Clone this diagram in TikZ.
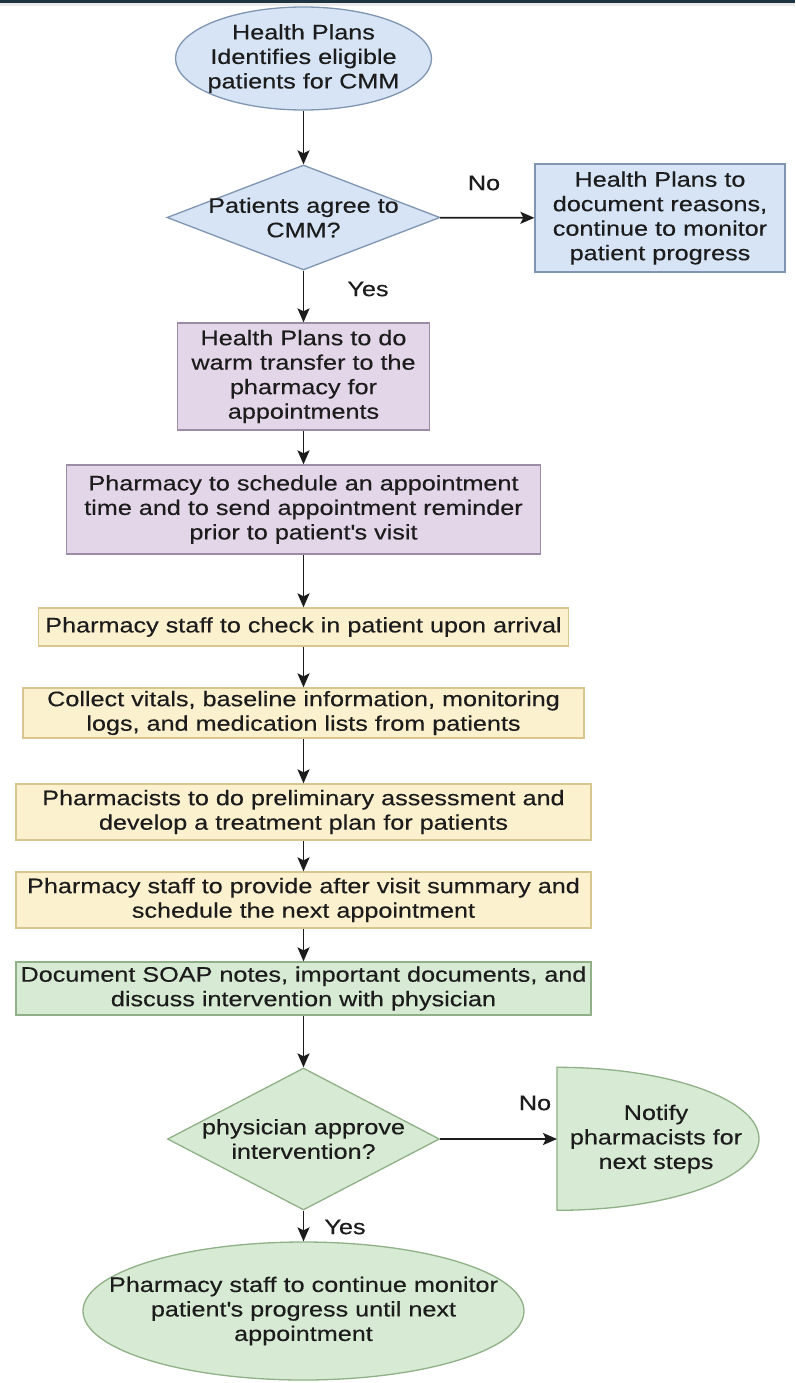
\documentclass[tikz,border=0pt]{standalone}
\usepackage{fontspec}
\setmainfont{Liberation Sans}[FakeStretch=1.2, FakeBold=0.35]
\usetikzlibrary{shapes.geometric,arrows.meta}

\definecolor{ink}{HTML}{1C1C1C}
\definecolor{barcol}{HTML}{1F3441}
\definecolor{bluefill}{HTML}{D6E4F5}
\definecolor{blueline}{HTML}{7F95B2}
\definecolor{purplefill}{HTML}{E3D6E8}
\definecolor{purpleline}{HTML}{9C8CA6}
\definecolor{yellowfill}{HTML}{FCF1CF}
\definecolor{yellowline}{HTML}{D9C68F}
\definecolor{greenfill}{HTML}{D7EAD3}
\definecolor{greenline}{HTML}{90B087}

\tikzset{
  txt/.style={font=\fontsize{21}{24.5}\selectfont, text=ink, align=center, inner sep=0pt},
  shapebase/.style={inner sep=0pt, line width=1.3pt},
  bluebox/.style={shapebase, rectangle, draw=blueline, fill=bluefill},
  purplebox/.style={shapebase, rectangle, draw=purpleline, fill=purplefill},
  yellowbox/.style={shapebase, rectangle, draw=yellowline, fill=yellowfill},
  greenbox/.style={shapebase, rectangle, draw=greenline, fill=greenfill},
  blueoval/.style={shapebase, ellipse, draw=blueline, fill=bluefill},
  greenoval/.style={shapebase, ellipse, draw=greenline, fill=greenfill},
  bluedecision/.style={shapebase, diamond, draw=blueline, fill=bluefill},
  greendecision/.style={shapebase, diamond, draw=greenline, fill=greenfill},
  arr/.style={draw=ink, line width=1.8pt, -{Stealth[length=14pt,width=12pt,inset=3pt]}},
}

\newcommand{\apos}{\textquotesingle}

\begin{document}
\begin{tikzpicture}[x=1pt,y=-1pt]
  \useasboundingbox (0,0) rectangle (795,1383);
  \fill[white] (0,0) rectangle (795,1383);
  % header strip
  \fill[barcol] (0,0) rectangle (795,3.5);
  \fill[black!8] (0,3.5) rectangle (795,6);

  % start
  \node[blueoval, minimum width=256pt, minimum height=103pt,
        label={[txt]center:Health Plans\\Identifies eligible\\patients for CMM}]
        (start) at (303.5,58.5) {};

  % first decision
  \node[bluedecision, minimum width=273pt, minimum height=105pt,
        label={[txt]center:Patients agree to\\CMM?}]
        (agree) at (303.5,217.5) {};

  \node[bluebox, minimum width=250pt, minimum height=108pt,
        label={[txt]center:Health Plans to\\document reasons,\\continue to monitor\\patient progress}]
        (reasons) at (660,218) {};

  \node[purplebox, minimum width=252pt, minimum height=107pt,
        label={[txt]center:Health Plans to do\\warm transfer to the\\pharmacy for\\appointments}]
        (transfer) at (303.5,376.5) {};

  \node[purplebox, minimum width=474pt, minimum height=89pt,
        label={[txt]center:Pharmacy to schedule an appointment\\time and to send appointment reminder\\prior to patient\apos s visit}]
        (schedule) at (303.5,509.5) {};

  \node[yellowbox, minimum width=530pt, minimum height=38pt,
        label={[txt]center:Pharmacy staff to check in patient upon arrival}]
        (checkin) at (303.5,627) {};

  \node[yellowbox, minimum width=561pt, minimum height=50pt,
        label={[txt]center:Collect vitals, baseline information, monitoring\\logs, and medication lists from patients}]
        (vitals) at (303.5,713) {};

  \node[yellowbox, minimum width=575pt, minimum height=56pt,
        label={[txt]center:Pharmacists to do preliminary assessment and\\develop a treatment plan for patients}]
        (assess) at (303.5,812) {};

  \node[yellowbox, minimum width=575pt, minimum height=56pt,
        label={[txt]center:Pharmacy staff to provide after visit summary and\\schedule the next appointment}]
        (summary) at (303.5,900) {};

  \node[greenbox, minimum width=575pt, minimum height=53pt,
        label={[txt]center:Document SOAP notes, important documents, and\\discuss intervention with physician}]
        (soap) at (303.5,988.5) {};

  \node[greendecision, minimum width=272pt, minimum height=142pt,
        label={[txt]center:physician approve\\intervention?}]
        (approve) at (303.5,1139) {};

  % delay-shaped terminal on the right
  \node[inner sep=0pt, minimum width=202pt, minimum height=143pt, anchor=west]
        (notify) at (557,1139) {};
  \draw[line width=1.3pt, draw=greenline, fill=greenfill]
        (notify.north west) arc[start angle=90, end angle=-90, x radius=202pt, y radius=71.5pt] -- cycle;
  \node[txt] (notifytext) at (656,1139) {Notify\\pharmacists for\\next steps};

  \node[greenoval, minimum width=441pt, minimum height=138pt,
        label={[txt]center:Pharmacy staff to continue monitor\\patient\apos s progress until next\\appointment}]
        (monitor) at (303.5,1311) {};

  % connectors
  \draw[arr] (start) -- (agree);
  \draw[arr] (agree) -- (reasons);
  \node[txt] (nolabel1) at (484,183) {No};
  \draw[arr] (agree) -- (transfer);
  \node[txt] (yeslabel1) at (368,289) {Yes};
  \draw[arr] (transfer) -- (schedule);
  \draw[arr] (schedule) -- (checkin);
  \draw[arr] (checkin) -- (vitals);
  \draw[arr] (vitals) -- (assess);
  \draw[arr] (assess) -- (summary);
  \draw[arr] (summary) -- (soap);
  \draw[arr] (soap) -- (approve);
  \draw[arr] (approve.east) -- (notify.west);
  \node[txt] (nolabel2) at (535,1103) {No};
  \draw[arr] (approve) -- (monitor);
  \node[txt] (yeslabel2) at (345,1227) {Yes};
\end{tikzpicture}
\end{document}
